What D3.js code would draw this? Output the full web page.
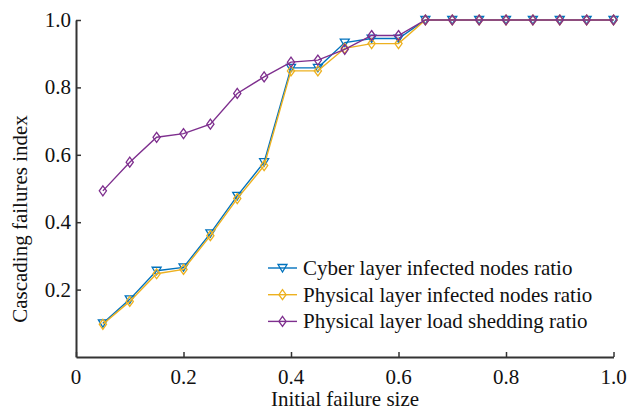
<!DOCTYPE html>
<html>
<head>
<meta charset="utf-8">
<script src="https://cdn.jsdelivr.net/npm/d3@7"></script>
</head>
<body style="margin:0">
<svg id="chart" width="630" height="411"></svg>
<script>
// failure sizes 0.05 .. 1.0
const sizes = [0.05, 0.1, 0.15, 0.2, 0.25, 0.3, 0.35, 0.4, 0.45, 0.5,
               0.55, 0.6, 0.65, 0.7, 0.75, 0.8, 0.85, 0.9, 0.95, 1.0];
const cyberInfected = [0.100, 0.171, 0.256, 0.266, 0.367, 0.478, 0.578, 0.858, 0.858, 0.933,
                       0.945, 0.945, 1, 1, 1, 1, 1, 1, 1, 1];
const physInfected = [0.097, 0.165, 0.247, 0.260, 0.360, 0.470, 0.568, 0.849, 0.849, 0.916,
                      0.930, 0.930, 1, 1, 1, 1, 1, 1, 1, 1];
const loadShedding = [0.493, 0.578, 0.652, 0.663, 0.691, 0.782, 0.831, 0.875, 0.881, 0.913,
                      0.954, 0.954, 1, 1, 1, 1, 1, 1, 1, 1];
const seriesNames = ["Cyber layer infected nodes ratio",
                     "Physical layer infected nodes ratio",
                     "Physical layer load shedding ratio"];
const xTicks = [0, 0.2, 0.4, 0.6, 0.8, 1.0];
const yTicks = [0.2, 0.4, 0.6, 0.8, 1.0];

const FONT = "Times New Roman";
const svg = d3.select("#chart");
const x = d3.scaleLinear().domain([0, 1]).range([76, 613.5]);
const y = d3.scaleLinear().domain([0, 1]).range([357, 20]);
const colors = ["#0072BD", "#EDB120", "#7E2F8E"];
const markers = ["tri", "dia", "dia"];
const allSeries = [cyberInfected, physInfected, loadShedding];

function markerPath(type) {
  if (type == "tri") return "M-4.5,-3.5L4.5,-3.5L0,4Z";
  return "M0,-5L3.6,0L0,5L-3.6,0Z";
}

// axis lines and ticks
const xAxis = svg.append("g").attr("transform", "translate(0,357)")
  .call(d3.axisBottom(x).tickValues(xTicks).tickSizeInner(-5).tickSizeOuter(0).tickFormat(""));
const yAxis = svg.append("g").attr("transform", "translate(76,0)")
  .call(d3.axisLeft(y).tickValues(yTicks).tickSizeInner(-5).tickSizeOuter(0).tickFormat(""));
[xAxis, yAxis].forEach(a => {
  a.attr("font-family", FONT);
  a.select(".domain").attr("stroke", "#333").attr("stroke-width", 2);
  a.selectAll(".tick line").attr("stroke", "#333").attr("stroke-width", 1.5);
  a.selectAll(".tick text").remove();
});

const labels = svg.append("g").attr("font-family", FONT).attr("font-size", 21).attr("fill", "#111");

// tick labels
labels.selectAll("text.xt").data(xTicks).join("text")
  .attr("class", "xt")
  .attr("x", d => x(d)).attr("y", 384)
  .attr("text-anchor", "middle")
  .attr("font-family", FONT)
  .text(d => d == 0 ? "0" : d3.format(".1f")(d));
labels.selectAll("text.yt").data(yTicks).join("text")
  .attr("class", "yt")
  .attr("x", 71).attr("y", d => y(d) + 7)
  .attr("text-anchor", "end")
  .attr("font-family", FONT)
  .text(d => d3.format(".1f")(d));

// axis titles
labels.append("text").attr("x", 345).attr("y", 406).attr("text-anchor", "middle")
  .attr("font-family", FONT).text("Initial failure size");
labels.append("text").attr("transform", "translate(27,219) rotate(-90)").attr("text-anchor", "middle")
  .attr("font-family", FONT).text("Cascading failures index");

// lines + markers
const line = d3.line().x((d, i) => x(sizes[i])).y(d => y(d));
allSeries.forEach((vals, k) => {
  svg.append("path").datum(vals).attr("d", line)
    .attr("fill", "none").attr("stroke", colors[k]).attr("stroke-width", 1.4);
  svg.append("g").selectAll("path").data(vals).join("path")
    .attr("d", markerPath(markers[k]))
    .attr("transform", (d, i) => `translate(${x(sizes[i])},${y(d)})`)
    .attr("fill", "none").attr("stroke", colors[k]).attr("stroke-width", 1.3);
});

// legend
const legend = svg.append("g").attr("transform", "translate(268,268)");
seriesNames.forEach((name, k) => {
  const g = legend.append("g").attr("transform", `translate(0,${k * 26.7})`);
  g.append("line").attr("x1", 0).attr("x2", 29).attr("y1", 0).attr("y2", 0)
    .attr("stroke", colors[k]).attr("stroke-width", 1.4);
  g.append("path").attr("d", markerPath(markers[k])).attr("transform", "translate(14.5,0)")
    .attr("fill", "none").attr("stroke", colors[k]).attr("stroke-width", 1.3);
});
labels.selectAll("text.leg").data(seriesNames).join("text")
  .attr("class", "leg")
  .attr("x", 303).attr("y", (d, i) => 275 + i * 26.7)
  .attr("font-family", FONT)
  .text(d => d);
</script>
</body>
</html>
